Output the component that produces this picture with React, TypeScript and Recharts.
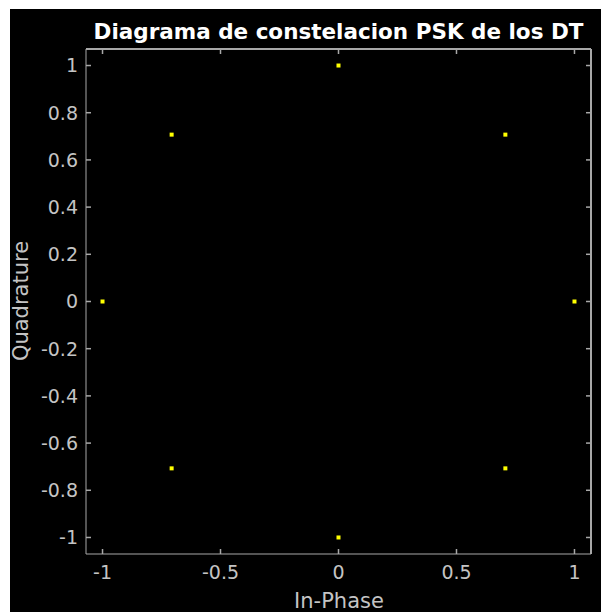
import { ScatterChart, Scatter, XAxis, YAxis, Label, ReferenceLine } from "recharts";

// constellation points (8-PSK)
const inPhase = [1, 0.7071, 0, -0.7071, -1, -0.7071, 0, 0.7071];
const quadrature = [0, 0.7071, 1, 0.7071, 0, -0.7071, -1, -0.7071];
const xTicks = [-1, -0.5, 0, 0.5, 1];
const yTicks = [-1, -0.8, -0.6, -0.4, -0.2, 0, 0.2, 0.4, 0.6, 0.8, 1];
const LIM = 1.07;

const points = inPhase.map((x, i) => ({ x, y: quadrature[i] }));

const AXIS = "#a8a8a8";
const TEXT = "#c4c4c4";
const FONT = "DejaVu Sans, sans-serif";

// plot box inside the svg
const TOP = 40;
const BOTTOM = 545;
const LEFT = 76;
const RIGHT = 581;

const Dot = (props: any) => {
  const { cx, cy } = props;
  return <rect x={cx - 2} y={cy - 2} width={4} height={4} fill="#ffff00" />;
};

// ticks point inwards, mirrored on top / right like matlab
const XTick = (props: any) => {
  const { x, y, payload } = props;
  return (
    <g>
      <line x1={x} x2={x} y1={BOTTOM} y2={BOTTOM - 5} stroke={AXIS} strokeWidth={1.5} />
      <line x1={x} x2={x} y1={TOP} y2={TOP + 5} stroke={AXIS} strokeWidth={1.5} />
      <text x={x} y={y} dy="0.71em" textAnchor="middle" fill={TEXT} fontSize={19} fontFamily={FONT}>
        {payload.value}
      </text>
    </g>
  );
};

const YTick = (props: any) => {
  const { x, y, payload } = props;
  return (
    <g>
      <line x1={LEFT} x2={LEFT + 5} y1={y} y2={y} stroke={AXIS} strokeWidth={1.5} />
      <line x1={RIGHT} x2={RIGHT - 5} y1={y} y2={y} stroke={AXIS} strokeWidth={1.5} />
      <text x={x} y={y} dy="0.36em" textAnchor="end" fill={TEXT} fontSize={19} fontFamily={FONT}>
        {payload.value}
      </text>
    </g>
  );
};

const QuadLabel = () => (
  <text
    transform="translate(18, 292) rotate(-90)"
    textAnchor="middle"
    fill={TEXT}
    fontSize={21}
    fontFamily={FONT}
  >
    Quadrature
  </text>
);

const PhaseLabel = () => (
  <text x={329} y={599} textAnchor="middle" fill={TEXT} fontSize={21} fontFamily={FONT}>
    In-Phase
  </text>
);

export default function App() {
  return (
    <div style={{ paddingLeft: 2, paddingTop: 1 }}>
      <div style={{ width: 599, height: 603, background: "#000", position: "relative" }}>
        <div
          style={{
            position: "absolute",
            left: 66,
            width: 525,
            top: 10,
            textAlign: "center",
            color: "#fff",
            fontFamily: FONT,
            fontWeight: "bold",
            fontSize: 21.5,
            whiteSpace: "nowrap",
          }}
        >
          Diagrama de constelacion PSK de los DT
        </div>
        <ScatterChart
          width={599}
          height={603}
          margin={{ top: TOP, right: 599 - RIGHT, bottom: 0, left: 0 }}
        >
          <XAxis
            dataKey="x"
            type="number"
            domain={[-LIM, LIM]}
            allowDataOverflow
            ticks={xTicks}
            height={603 - BOTTOM}
            stroke={AXIS}
            tickLine={false}
            tickSize={0}
            tickMargin={12}
            tick={<XTick />}
          >
            <Label content={<PhaseLabel />} />
          </XAxis>
          <YAxis
            dataKey="y"
            type="number"
            domain={[-LIM, LIM]}
            allowDataOverflow
            ticks={yTicks}
            width={LEFT}
            stroke={AXIS}
            tickLine={false}
            tickSize={0}
            tickMargin={8}
            tick={<YTick />}
          >
            <Label content={<QuadLabel />} />
          </YAxis>
          {/* top and right edges of the axes box */}
          <ReferenceLine y={LIM} stroke={AXIS} strokeWidth={2} ifOverflow="visible" />
          <ReferenceLine x={LIM} stroke={AXIS} strokeWidth={2} ifOverflow="visible" />
          <Scatter data={points} shape={Dot} isAnimationActive={false} />
        </ScatterChart>
      </div>
    </div>
  );
}
